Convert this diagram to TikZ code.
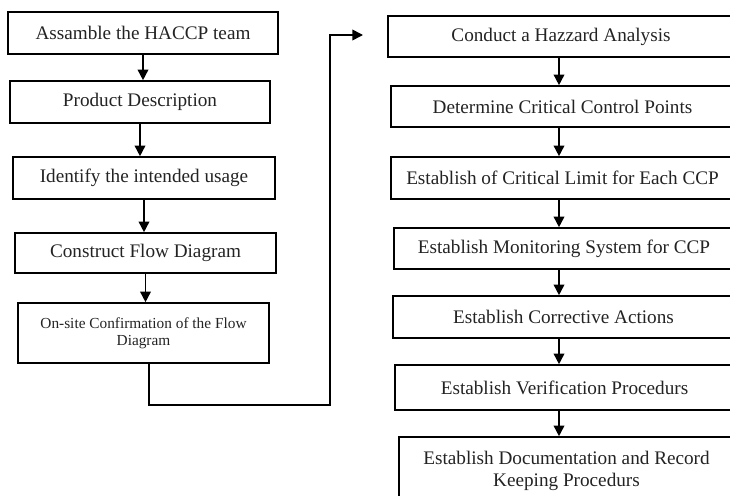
\documentclass[tikz,border=0pt]{standalone}
\usepackage{fontspec}
\setmainfont{Liberation Serif}
\usetikzlibrary{arrows.meta}
\definecolor{txt}{RGB}{35,35,35}
\begin{document}
\begin{tikzpicture}[x=0.75pt,y=-0.75pt,
  box/.style 2 args={draw=black, line width=1.2pt, rectangle, inner sep=0pt,
    minimum width=#1*0.75pt, minimum height=#2*0.75pt, text=txt,
    font=\fontsize{14.4}{17}\selectfont, align=center},
  small/.style={font=\fontsize{11.5}{12.75}\selectfont},
  big/.style={font=\fontsize{14.4}{16.5}\selectfont},
  arr/.style={line width=1.2pt, -{Triangle[length=8pt,width=8pt]}}]
\useasboundingbox (0,0) rectangle (730,495);
\clip (0,0) rectangle (730,495);
% left column
\node[box={270}{42}] (L1) at (143,33) {Assamble the HACCP team};
\node[box={260}{42}] (L2) at (140,102) {Product Description};
\node[box={262}{42}] (L3) at (144,178) {Identify the intended usage};
\node[box={261}{40}] (L4) at (145.5,253) {Construct Flow Diagram};
\node[box={251}{60}, small] (L5) at (143.5,333) {On-site Confirmation of the Flow\\Diagram};
% right column
\node[box={346}{41}] (R1) at (561,36.5) {Conduct a Hazzard Analysis};
\node[box={343}{41}] (R2) at (562.5,106.5) {Determine Critical Control Points};
\node[box={343}{42}] (R3) at (562.5,178) {Establish of Critical Limit for Each CCP};
\node[box={340}{41}] (R4) at (564,248.5) {Establish Monitoring System for CCP};
\node[box={341}{42}] (R5) at (563.5,317) {Establish Corrective Actions};
\node[box={339}{45}] (R6) at (564.5,387.5) {Establish Verification Procedurs};
\node[box={335}{68}, big] (R7) at (566.5,471) {Establish Documentation and Record\\Keeping Procedurs};
% connectors left
\draw[arr] (L1.south) -- (L1.south |- L2.north);
\draw[arr] (L2.south) -- (L2.south |- L3.north);
\draw[arr] (L3.south) -- (L3.south |- L4.north);
\draw[arr] (L4.south) -- (L4.south |- L5.north);
% link
\coordinate (lx) at (149,0);
\coordinate (c1) at (330,405);
\coordinate (tip) at (363,35);
\draw[arr] (L5.south -| lx) |- (c1) |- (tip);
% connectors right
\coordinate (rx) at (559,0);
\draw[arr] (R1.south -| rx) -- (R2.north -| rx);
\draw[arr] (R2.south -| rx) -- (R3.north -| rx);
\draw[arr] (R3.south -| rx) -- (R4.north -| rx);
\draw[arr] (R4.south -| rx) -- (R5.north -| rx);
\draw[arr] (R5.south -| rx) -- (R6.north -| rx);
\draw[arr] (R6.south -| rx) -- (R7.north -| rx);
\end{tikzpicture}
\end{document}
